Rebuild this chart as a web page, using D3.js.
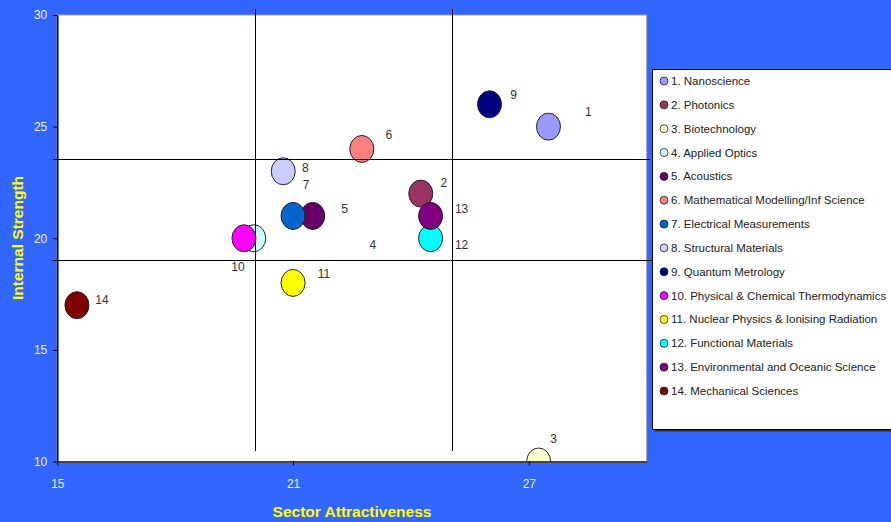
<!DOCTYPE html>
<html>
<head>
<meta charset="utf-8">
<script src="https://cdn.jsdelivr.net/npm/d3@7"></script>
<style>
  html, body { margin: 0; padding: 0; background: #3366FF; }
  svg { display: block; font-family: "Liberation Sans", Arial, sans-serif; }
</style>
</head>
<body>
<svg id="chart" width="891" height="522"></svg>
<script>
// Portfolio matrix: sector attractiveness vs internal strength per science area
const ids = [1, 2, 3, 4, 5, 6, 7, 8, 9, 10, 11, 12, 13, 14];
const names = [
  "Nanoscience", "Photonics", "Biotechnology", "Applied Optics", "Acoustics",
  "Mathematical Modelling/Inf Science", "Electrical Measurements", "Structural Materials",
  "Quantum Metrology", "Physical & Chemical Thermodynamics",
  "Nuclear Physics & Ionising Radiation", "Functional Materials",
  "Environmental and Oceanic Science", "Mechanical Sciences"
];
const attractiveness = [27.5, 24.25, 27.25, 20, 21.5, 22.75, 21, 20.75, 26, 19.75, 21, 24.5, 24.5, 15.5];
const strength =       [25,   22,    10,    20, 21,   24,    21, 23,    26, 20,    18, 20,   21,   17];
const colors = ["#9999FF", "#993366", "#FFFFCC", "#CCFFFF", "#660066", "#FF8080", "#0066CC",
                "#CCCCFF", "#000080", "#FF00FF", "#FFFF00", "#00FFFF", "#800080", "#800000"];
// Quadrant divider values
const dividerX = [20.04, 25.05];
const dividerY = [23.53, 19.03];
const xTicks = [15, 21, 27];
const yTicks = [10, 15, 20, 25, 30];
// Label placement (pixel offsets from each bubble)
const labelDx = [40, 23, 15, 119, 32, 27, 13, 22, 24, -6, 31, 31, 31, 25];
const labelDy = [-15, -11, -23, 7, -7, -14, -31, -3, -9, 29, -9, 7, -7, -5];

const svg = d3.select("#chart");
const plotL = 57.3, plotR = 646.7, plotT = 15, plotB = 461.5;

const x = d3.scaleLinear().domain([15, 30]).range([plotL, plotR]);
const y = d3.scaleLinear().domain([10, 30]).range([plotB, plotT]);

// plot area
svg.append("rect")
  .attr("x", plotL).attr("y", plotT)
  .attr("width", plotR - plotL).attr("height", plotB - plotT)
  .attr("fill", "#fff").attr("stroke", "#999").attr("stroke-width", 1);

svg.append("clipPath").attr("id", "plotclip")
  .append("rect").attr("x", plotL).attr("y", plotT)
  .attr("width", plotR - plotL).attr("height", plotB - plotT);

const data = ids.map((id, i) => ({
  id, name: names[i], x: attractiveness[i], y: strength[i], color: colors[i],
  dx: labelDx[i], dy: labelDy[i]
}));

// bubbles
svg.append("g").attr("clip-path", "url(#plotclip)")
  .selectAll("ellipse").data(data).join("ellipse")
  .attr("cx", d => x(d.x)).attr("cy", d => y(d.y))
  .attr("rx", 12).attr("ry", 13.5)
  .attr("fill", d => d.color)
  .attr("stroke", "#222").attr("stroke-width", 1);

// quadrant dividers
const lines = svg.append("g").attr("stroke", "#000").attr("stroke-width", 1);
dividerX.forEach(v => {
  lines.append("line")
    .attr("x1", Math.round(x(v)) + 0.5).attr("x2", Math.round(x(v)) + 0.5)
    .attr("y1", 9).attr("y2", 451);
});
lines.append("line")
  .attr("x1", 53).attr("x2", 650)
  .attr("y1", Math.round(y(dividerY[0])) + 0.5).attr("y2", Math.round(y(dividerY[0])) + 0.5);
lines.append("line")
  .attr("x1", 53).attr("x2", 653)
  .attr("y1", Math.round(y(dividerY[1])) + 0.5).attr("y2", Math.round(y(dividerY[1])) + 0.5);

// bubble labels
svg.append("g").selectAll("text").data(data).join("text")
  .attr("x", d => x(d.x) + d.dx).attr("y", d => y(d.y) + d.dy)
  .attr("text-anchor", "middle").attr("dominant-baseline", "central")
  .attr("font-size", 12).attr("fill", "#333")
  .text(d => d.id);

// axes
const xAxis = svg.append("g").attr("transform", `translate(0,${plotB})`)
  .call(d3.axisBottom(x).tickValues(xTicks).tickSize(4).tickSizeOuter(0).tickPadding(14));
xAxis.select(".domain").attr("stroke", "#444").attr("stroke-width", 2);
xAxis.selectAll(".tick line").attr("stroke", "#000");
xAxis.selectAll("text").attr("fill", "#E8EEFF").attr("font-size", 12)
  .attr("font-family", "Liberation Sans, Arial, sans-serif");

const yAxis = svg.append("g").attr("transform", `translate(${plotL},0)`)
  .call(d3.axisLeft(y).tickValues(yTicks).tickSize(4).tickSizeOuter(0).tickPadding(6));
yAxis.select(".domain").attr("stroke", "#000").attr("stroke-width", 1.5);
yAxis.selectAll(".tick line").attr("stroke", "#000");
yAxis.selectAll("text").attr("fill", "#E8EEFF").attr("font-size", 12)
  .attr("font-family", "Liberation Sans, Arial, sans-serif");

// axis titles
svg.append("text")
  .attr("x", 352).attr("y", 517)
  .attr("text-anchor", "middle")
  .attr("font-size", 15.5).attr("font-weight", "bold").attr("fill", "#FFFF00")
  .text("Sector Attractiveness");
svg.append("text")
  .attr("transform", "translate(23,238) rotate(-90)")
  .attr("text-anchor", "middle")
  .attr("font-size", 15.5).attr("font-weight", "bold").attr("fill", "#FFFF00")
  .text("Internal Strength");

// legend
const lg = svg.append("g");
lg.append("rect")
  .attr("x", 654.5).attr("y", 71.5).attr("width", 260).attr("height", 360)
  .attr("fill", "#333");
lg.append("rect")
  .attr("x", 652.5).attr("y", 69.5).attr("width", 260).attr("height", 360)
  .attr("fill", "#fff").attr("stroke", "#000").attr("stroke-width", 1);
const rowY = d3.scalePoint().domain(ids).range([81, 391]);
const items = lg.selectAll("g.item").data(data).join("g").attr("class", "item")
  .attr("transform", d => `translate(0,${rowY(d.id)})`);
items.append("circle")
  .attr("cx", 664).attr("cy", 0).attr("r", 4)
  .attr("fill", d => d.color).attr("stroke", "#222").attr("stroke-width", 0.8);
items.append("text")
  .attr("x", 671).attr("y", 0)
  .attr("dominant-baseline", "central")
  .attr("font-size", 11.5).attr("fill", "#222")
  .text(d => `${d.id}. ${d.name}`);
</script>
</body>
</html>
